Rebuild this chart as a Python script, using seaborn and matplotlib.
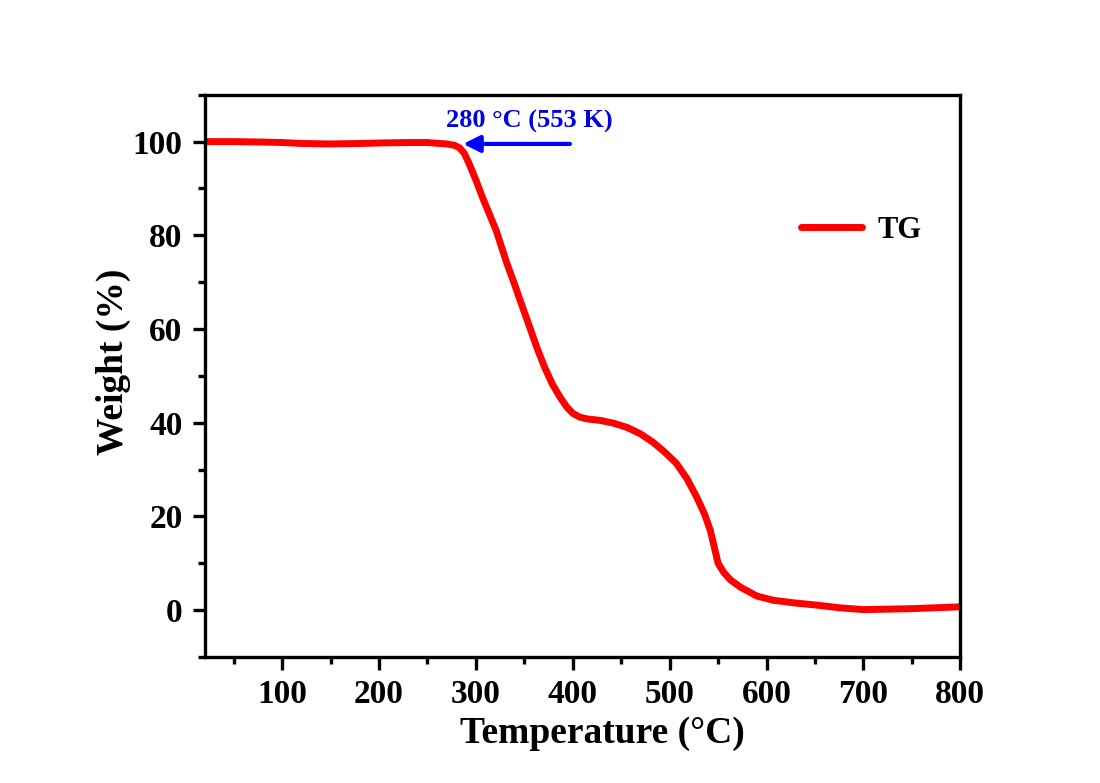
import numpy as np
import pandas as pd
import matplotlib
matplotlib.use("Agg")
import matplotlib.pyplot as plt
import seaborn as sns
from matplotlib.ticker import MultipleLocator

# =====================================================
# Data
# =====================================================
temperature = [20, 50, 80, 100, 120, 150, 180, 200, 230, 250, 262, 270, 278,
               283, 288, 293, 300, 307, 314, 321, 332, 340, 345, 354, 363,
               371, 379, 387, 394, 400, 407, 415, 428, 442, 456, 470, 483,
               495, 507, 518, 528, 536, 542, 546, 550, 556, 563, 573, 590,
               607, 630, 650, 675, 700, 725, 750, 775, 800]
weight = [100.0, 100.0, 99.9, 99.8, 99.6, 99.5, 99.6, 99.7, 99.8, 99.8, 99.6,
          99.5, 99.2, 98.7, 97.5, 95.3, 91.8, 88.0, 84.5, 81.0, 74.0, 69.5,
          66.5, 61.3, 56.0, 51.8, 48.2, 45.4, 43.3, 42.0, 41.2, 40.8, 40.5,
          39.9, 39.0, 37.6, 35.8, 33.7, 31.3, 28.0, 24.1, 20.5, 17.0, 13.5,
          10.0, 8.0, 6.4, 4.9, 3.0, 2.1, 1.5, 1.1, 0.5, 0.1, 0.2, 0.3, 0.5,
          0.7]

df = pd.DataFrame({"Temperature": temperature, "Weight": weight, "series": "TG"})

# =====================================================
# Style
# =====================================================
sns.set_theme(style="ticks")
plt.rcParams["font.family"] = ["Liberation Serif", "DejaVu Serif"]
plt.rcParams["font.weight"] = "bold"
plt.rcParams["text.color"] = "black"
plt.rcParams["axes.labelcolor"] = "black"
plt.rcParams["xtick.color"] = "black"
plt.rcParams["ytick.color"] = "black"

fig = plt.figure(figsize=(11, 7.83), dpi=100)
ax = fig.add_axes([0.186, 0.161, 0.687, 0.718])

sns.lineplot(data=df, x="Temperature", y="Weight", hue="series",
             palette={"TG": "#ff0000"}, linewidth=5, ax=ax,
             solid_joinstyle="round", solid_capstyle="round")

ax.set_xlim(20, 800)
ax.set_ylim(-10, 110)
ax.xaxis.set_major_locator(MultipleLocator(100))
ax.xaxis.set_minor_locator(MultipleLocator(50))
ax.yaxis.set_major_locator(MultipleLocator(20))
ax.yaxis.set_minor_locator(MultipleLocator(10))
ax.set_xticks([100, 200, 300, 400, 500, 600, 700, 800])

for s in ax.spines.values():
    s.set_linewidth(2.4)
    s.set_color("black")

ax.tick_params(which="major", direction="out", length=9, width=2.4,
               labelsize=24, top=False, right=False, pad=7)
ax.tick_params(which="minor", direction="out", length=5, width=2.4,
               top=False, right=False)
for lab in ax.get_xticklabels() + ax.get_yticklabels():
    lab.set_fontweight("bold")

ax.set_xlabel("Temperature (°C)", fontsize=27, fontweight="bold")
ax.set_ylabel("Weight (%)", fontsize=27, fontweight="bold")
ax.xaxis.set_label_coords(0.526, -0.105)
ax.yaxis.set_label_coords(-0.097, 0.525)

leg = ax.legend(loc="upper right", bbox_to_anchor=(0.985, 0.833), frameon=False,
                fontsize=22, handlelength=2.0, handletextpad=0.5)
for t in leg.get_texts():
    t.set_fontweight("bold")

# annotation arrow
ax.annotate("", xy=(284, 99.5), xytext=(400, 99.5),
            arrowprops=dict(arrowstyle="-|>", color="#0000ff", lw=3,
                            mutation_scale=25))
ax.text(355, 101.8, "280 °C (553 K)", color="#0000e0", fontsize=19,
        fontweight="bold", ha="center", va="bottom")

fig.savefig("out.png", dpi=100)
